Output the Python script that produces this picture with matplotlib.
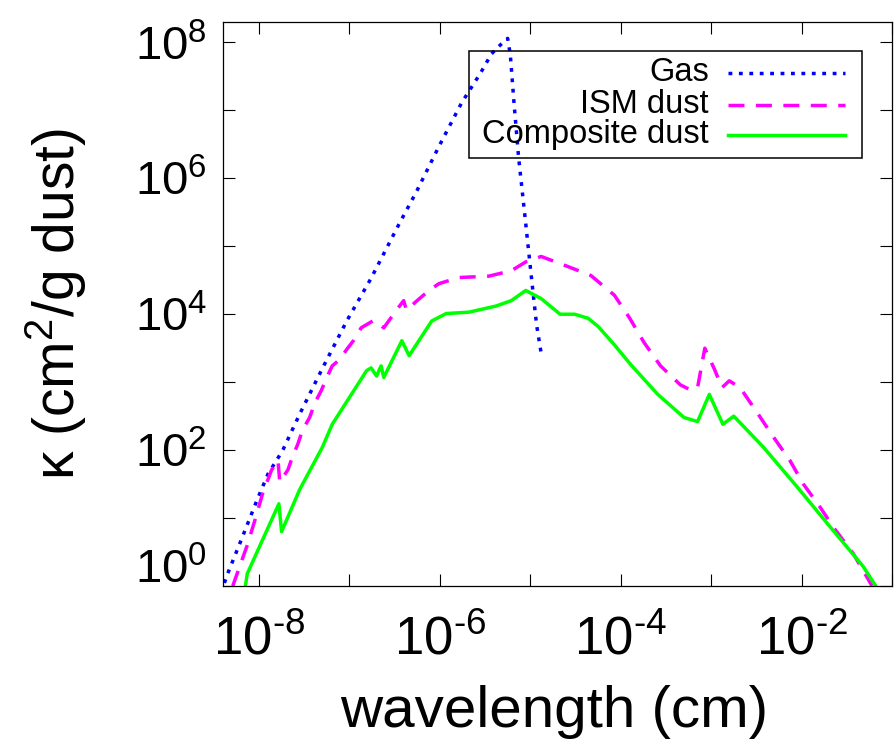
import numpy as np
import matplotlib
matplotlib.use("Agg")
import matplotlib.pyplot as plt
from matplotlib.ticker import LogLocator, FuncFormatter, NullLocator
from matplotlib.lines import Line2D
from matplotlib.patches import Rectangle

# ---------------- data (log10 values) ----------------
gas_log_wl = [-8.42, -8.35, -8.19, -8.02, -7.90, -7.74, -7.55, -7.30, -7.03, -6.76,
              -6.45, -6.26, -6.01, -5.76, -5.55, -5.43, -5.35, -5.25, -5.22, -5.18,
              -5.13, -5.05, -4.98, -4.93, -4.88]
gas_log_k = [-0.10, 0.17, 0.70, 1.27, 1.65, 1.99, 2.53, 3.20, 3.90, 4.53,
             5.33, 5.80, 6.47, 7.11, 7.55, 7.83, 7.94, 8.06, 7.81, 7.11,
             6.32, 5.33, 4.45, 3.84, 3.43]

ism_log_wl = [-8.29, -8.13, -8.04, -7.96, -7.86, -7.79, -7.77, -7.68, -7.63, -7.57,
              -7.52, -7.44, -7.38, -7.31, -7.25, -7.19, -7.11, -7.02, -6.95, -6.87,
              -6.73, -6.62, -6.48, -6.40, -6.37, -6.26, -6.12, -6.01, -5.79, -5.46,
              -5.21, -5.05, -4.88, -4.62, -4.33, -4.07, -3.90, -3.74, -3.56, -3.34,
              -3.22, -3.15, -3.07, -2.96, -2.88, -2.80, -2.68, -2.49, -2.31, -2.13,
              -1.98, -1.80, -1.64, -1.43, -1.22]
ism_log_k = [0.00, 0.60, 0.99, 1.36, 1.71, 1.85, 1.53, 1.71, 1.90, 2.09,
             2.29, 2.48, 2.70, 2.88, 3.07, 3.24, 3.33, 3.50, 3.62, 3.80,
             3.91, 3.80, 4.06, 4.20, 4.06, 4.19, 4.35, 4.45, 4.54, 4.56,
             4.64, 4.77, 4.85, 4.72, 4.57, 4.28, 3.94, 3.58, 3.24, 2.96,
             2.88, 2.92, 3.50, 3.18, 2.92, 3.02, 2.92, 2.55, 2.19, 1.85,
             1.50, 1.17, 0.85, 0.48, 0.00]

comp_log_wl = [-8.15, -8.13, -7.78, -7.75, -7.55, -7.30, -7.19, -6.81, -6.76, -6.70,
               -6.65, -6.62, -6.42, -6.34, -6.09, -5.93, -5.68, -5.38, -5.21, -5.05,
               -4.88, -4.67, -4.51, -4.36, -4.25, -4.07, -3.89, -3.59, -3.30, -3.15,
               -3.02, -2.87, -2.75, -2.42, -2.05, -1.69, -1.32, -1.18]
comp_log_k = [0.00, 0.18, 1.21, 0.80, 1.42, 2.04, 2.38, 3.17, 3.21, 3.09,
              3.24, 3.07, 3.61, 3.39, 3.90, 4.01, 4.03, 4.12, 4.20, 4.35,
              4.23, 4.00, 4.00, 3.94, 3.82, 3.55, 3.26, 2.82, 2.48, 2.42,
              2.82, 2.38, 2.50, 2.04, 1.46, 0.88, 0.29, 0.00]

series_labels = ["Gas", "ISM dust", "Composite dust"]

# ---------------- style ----------------
plt.rcParams['font.family'] = ['Liberation Sans', 'DejaVu Sans']
plt.rcParams['mathtext.fontset'] = 'custom'
plt.rcParams['mathtext.rm'] = 'Liberation Sans'
plt.rcParams['mathtext.it'] = 'Liberation Sans:italic'
plt.rcParams['mathtext.bf'] = 'Liberation Sans:bold'

W, H = 894, 740
fig = plt.figure(figsize=(W / 100, H / 100), dpi=100)
L, R, T, B = 223, 892, 22, 586
ax = fig.add_axes([L / W, 1 - B / H, (R - L) / W, (B - T) / H])

blue = '#0000ff'
magenta = '#ff00ff'
green = '#00ff00'
lw = 2.5
gas_style = dict(color=blue, lw=lw, linestyle=(0, (1.1, 1.9)), dash_capstyle='butt')
ism_style = dict(color=magenta, lw=lw, linestyle=(0, (4.6, 3.3)), dash_capstyle='butt')
comp_style = dict(color=green, lw=lw, linestyle='-')

ax.plot(10 ** np.array(gas_log_wl), 10 ** np.array(gas_log_k), **gas_style)
ax.plot(10 ** np.array(ism_log_wl), 10 ** np.array(ism_log_k), **ism_style)
ax.plot(10 ** np.array(comp_log_wl), 10 ** np.array(comp_log_k), **comp_style)

ax.set_xscale('log')
ax.set_yscale('log')
ax.set_xlim(4e-9, 1e-1)
ax.set_ylim(1, 2e8)

ax.xaxis.set_major_locator(LogLocator(base=10, subs=(1.0,), numticks=30))
ax.yaxis.set_major_locator(LogLocator(base=10, subs=(1.0,), numticks=30))
ax.xaxis.set_minor_locator(NullLocator())
ax.yaxis.set_minor_locator(NullLocator())


def fmt_x(v, pos):
    e = int(round(np.log10(v)))
    if e % 2:
        return ''
    s = ('\\text{-}%d' % (-e)) if e < 0 else '%d' % e
    return r'$\mathregular{10^{%s}}$' % s


def fmt_y(v, pos):
    e = int(round(np.log10(v)))
    if e % 2 or e == 0:
        return ''
    return r'$\mathregular{10^{%d}}$' % e


ax.xaxis.set_major_formatter(FuncFormatter(fmt_x))
ax.yaxis.set_major_formatter(FuncFormatter(fmt_y))

ax.tick_params(which='major', direction='in', length=8.6, width=0.8,
               top=True, right=True, color='black')
ax.tick_params(axis='x', labelsize=38, pad=21)
ax.tick_params(axis='y', labelsize=34, pad=11.5)
for sp in ax.spines.values():
    sp.set_linewidth(0.9)

# 10^0 label sits a little above its tick in the reference
ax.annotate(r'$\mathregular{10^{0}}$', xy=(0, 1), xycoords=('axes fraction', 'data'),
            xytext=(-16, 20), textcoords='offset pixels', ha='right',
            va='center_baseline', fontsize=34, annotation_clip=False)

ax.set_xlabel('wavelength (cm)', fontsize=42, va='baseline')
ax.xaxis.set_label_coords(0.4955, (B - 727) / (B - T))
ax.set_ylabel('κ (cm$^2$/g dust)', fontsize=41, va='center')
ax.yaxis.set_label_coords((56 - L) / (R - L), 0.5)

# ---------------- legend (gnuplot style, transparent box) ----------------
fig.add_artist(Rectangle((469 / W, 1 - 158 / H), (862 - 469) / W, (158 - 51) / H,
                         transform=fig.transFigure, fill=False, edgecolor='black',
                         lw=1.1))
rows_y = [73, 105, 135]
styles = [gas_style, ism_style, comp_style]
for lab, yy, st in zip(series_labels, rows_y, styles):
    fig.text(709 / W, 1 - (yy + 8) / H, lab, ha='right', va='baseline', fontsize=23.5)
    fig.add_artist(Line2D([728 / W, 845 / W], [1 - yy / H, 1 - yy / H],
                          transform=fig.transFigure, **st))

fig.savefig('out.png', dpi=100)
